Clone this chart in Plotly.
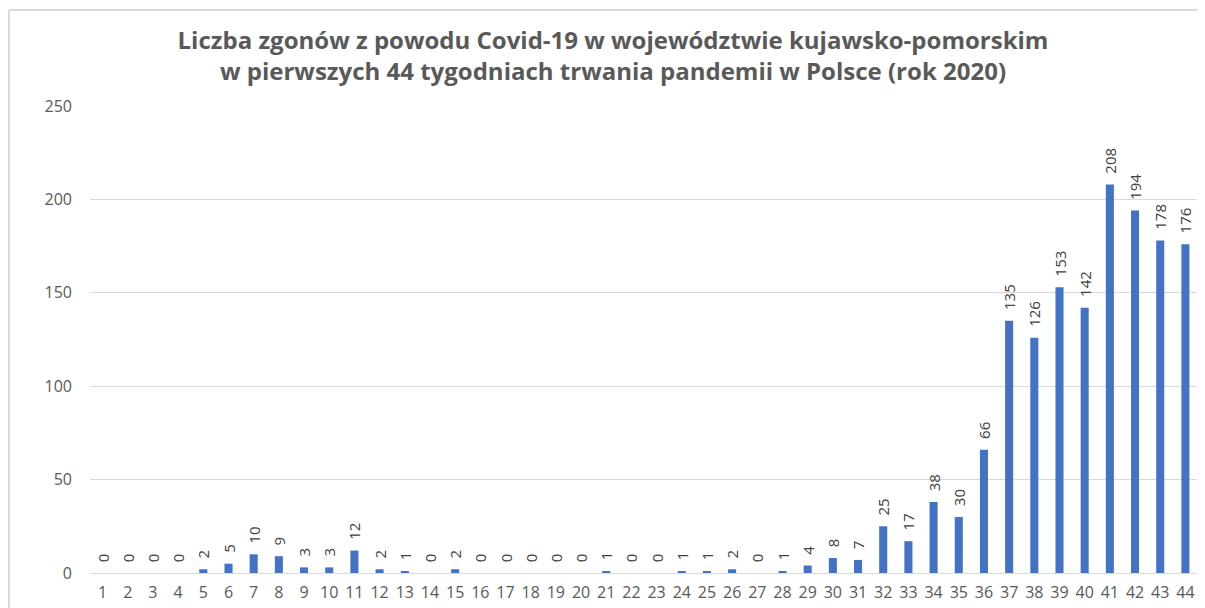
import plotly.graph_objects as go

weeks = [str(i) for i in range(1, 45)]
deaths = [0, 0, 0, 0, 2, 5, 10, 9, 3, 3, 12, 2, 1, 0, 2, 0, 0, 0, 0, 0,
          1, 0, 0, 1, 1, 2, 0, 1, 4, 8, 7, 25, 17, 38, 30, 66, 135, 126, 153, 142,
          208, 194, 178, 176]
y_ticks = [0, 50, 100, 150, 200, 250]

FONT = "'Open Sans', sans-serif"

# page body adds an 8px offset; size the figure so the plot area lands where the reference has it
W, H = 1197, 600
L, R, T, B = 82, 7, 98, 35
PW, PH = W - L - R, H - T - B

fig = go.Figure()
fig.add_trace(go.Bar(
    x=weeks, y=deaths,
    marker=dict(color="#4472C4", line=dict(width=0)),
    text=["\u00a0\u00a0" + str(v) for v in deaths],
    textposition="outside",
    textangle=-90,
    textfont=dict(family=FONT, size=15, color="#404040"),
    cliponaxis=False,
))

fig.update_layout(
    width=W, height=H,
    margin=dict(l=L, r=R, t=T, b=B),
    paper_bgcolor="white", plot_bgcolor="white",
    bargap=0.68,
    showlegend=False,
    title=dict(
        text="Liczba zgonów z powodu Covid-19 w województwie kujawsko-pomorskim<br>w pierwszych 44 tygodniach trwania pandemii w Polsce (rok 2020)",
        x=(613 - 8) / W, xanchor="center",
        y=1 - 41 / H, yanchor="middle",
        font=dict(family=FONT, size=24, color="#595959", weight="bold"),
    ),
    uniformtext=dict(minsize=15, mode="show"),
    font=dict(family=FONT),
)
fig.update_xaxes(
    type="category", showgrid=False, showline=False, ticks="",
    ticklabelstandoff=8, automargin=False,
    tickfont=dict(family=FONT, size=16, color="#595959"),
)
fig.update_yaxes(
    range=[0, 250], tickvals=y_ticks, showgrid=True, gridcolor="#d9d9d9",
    gridwidth=1, zeroline=True, zerolinecolor="#d9d9d9", zerolinewidth=1,
    showline=False, ticks="", ticklabelstandoff=17, automargin=False,
    tickfont=dict(family=FONT, size=16, color="#595959"),
)
# outer chart frame (top and left edges visible)
top_y = 1 + (T - 2) / PH
left_x = -(L - 1) / PW
fig.add_shape(type="line", xref="paper", yref="paper",
              x0=left_x, x1=1.2, y0=top_y, y1=top_y,
              line=dict(color="#d9d9d9", width=2))
fig.add_shape(type="line", xref="paper", yref="paper",
              x0=left_x, x1=left_x, y0=-0.2, y1=top_y,
              line=dict(color="#d9d9d9", width=2))

fig.write_html("out.html")
